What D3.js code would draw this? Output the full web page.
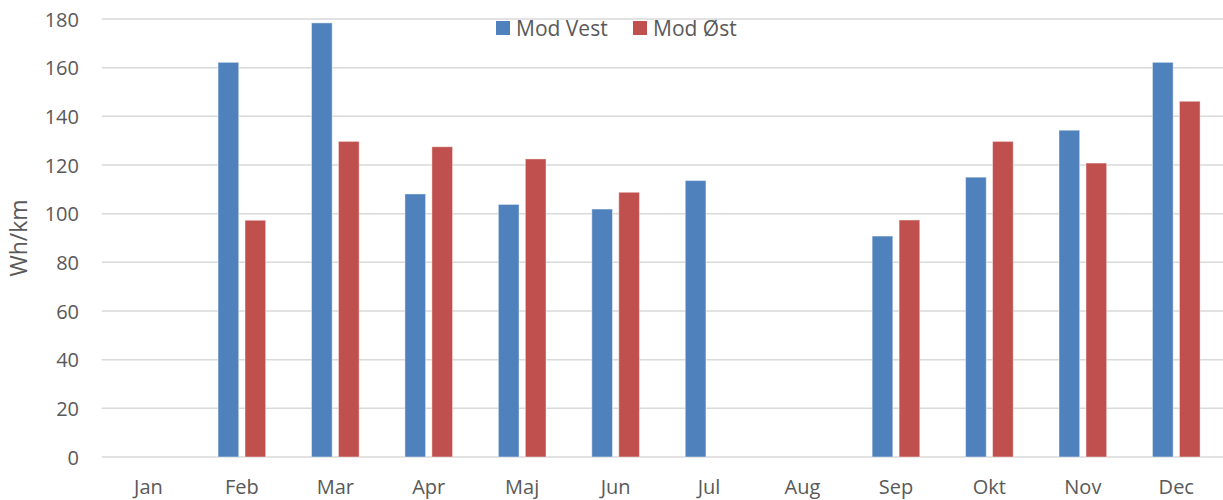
<!DOCTYPE html>
<html>
<head>
<meta charset="utf-8">
<script src="https://cdn.jsdelivr.net/npm/d3@7"></script>
<style>
  html, body { margin: 0; padding: 0; background: #fff; }
  svg { display: block; font-family: "Open Sans", "Noto Sans", sans-serif; }
</style>
</head>
<body>
<svg id="chart" width="1223" height="500"></svg>
<script>
const months = ["Jan","Feb","Mar","Apr","Maj","Jun","Jul","Aug","Sep","Okt","Nov","Dec"];
const seriesNames = ["Mod Vest", "Mod Øst"];
const modVest = [null, 162.2, 178.4, 108.1, 103.8, 101.9, 113.6, null, 90.8, 115.0, 134.3, 162.2];
const modOst  = [null, 97.3, 129.7, 127.5, 122.5, 108.8, null, null, 97.4, 129.7, 120.8, 146.2];
const yTicks = [0, 20, 40, 60, 80, 100, 120, 140, 160, 180];
const yTitle = "Wh/km";
const colors = ["#4f81bd", "#c0504d"];

const svg = d3.select("#chart");
const plotLeft = 101.7, plotRight = 1223, plotTop = 19, plotBottom = 457;

const x0 = d3.scaleBand().domain(months).range([plotLeft, plotRight]).paddingInner(0).paddingOuter(0);
const bw = x0.bandwidth();
const x1 = d3.scaleBand().domain(seriesNames).range([bw * 0.245, bw * 0.755]).paddingInner(0.233).paddingOuter(0);
const y = d3.scaleLinear().domain([0, 180]).range([plotBottom, plotTop]);

// gridlines
svg.append("g").selectAll("line").data(yTicks).join("line")
  .attr("x1", plotLeft).attr("x2", plotRight)
  .attr("y1", d => y(d)).attr("y2", d => y(d))
  .attr("stroke", "#d9d9d9").attr("stroke-width", 1.5);

// y tick labels
const yAxis = d3.axisLeft(y).tickValues(yTicks).tickSize(0).tickPadding(0);
const gy = svg.append("g").attr("transform", `translate(79,0)`).call(yAxis);
gy.select(".domain").remove();
gy.selectAll("text")
  .attr("font-family", "'Open Sans', sans-serif")
  .attr("font-size", 20).attr("fill", "#595959").attr("dy", "0.36em").attr("x", 0);

// x labels
const xAxis = d3.axisBottom(x0).tickSize(0).tickPadding(0);
const gx = svg.append("g").attr("transform", `translate(0,${plotBottom})`).call(xAxis);
gx.select(".domain").remove();
gx.selectAll("text")
  .attr("font-family", "'Open Sans', sans-serif")
  .attr("font-size", 20).attr("fill", "#595959").attr("dy", null).attr("y", 37);

// bars
const data = months.map((m, i) => ({ m, vals: [modVest[i], modOst[i]] }));
const groups = svg.append("g").selectAll("g").data(data).join("g")
  .attr("transform", d => `translate(${x0(d.m)},0)`);
groups.selectAll("rect")
  .data(d => d.vals.map((v, j) => ({ name: seriesNames[j], v, j })).filter(e => e.v != null))
  .join("rect")
  .attr("x", e => x1(e.name))
  .attr("width", x1.bandwidth())
  .attr("y", e => y(e.v))
  .attr("height", e => y(0) - y(e.v))
  .attr("fill", e => colors[e.j])
  .attr("stroke", "#ffffff").attr("stroke-opacity", 0.45).attr("stroke-width", 1);

// y title
svg.append("text")
  .attr("transform", `translate(27,${(plotTop + plotBottom) / 2}) rotate(-90)`)
  .attr("text-anchor", "middle")
  .attr("font-size", 23).attr("fill", "#595959")
  .text(yTitle);

// legend
const legendX = [496, 633];
const lg = svg.append("g").selectAll("g").data(seriesNames).join("g")
  .attr("transform", (d, i) => `translate(${legendX[i]},21)`);
lg.append("rect").attr("width", 14).attr("height", 14).attr("fill", (d, i) => colors[i]);
lg.append("text").attr("x", 20).attr("y", 14.5).attr("font-size", 21).attr("fill", "#595959").text(d => d);
</script>
</body>
</html>
